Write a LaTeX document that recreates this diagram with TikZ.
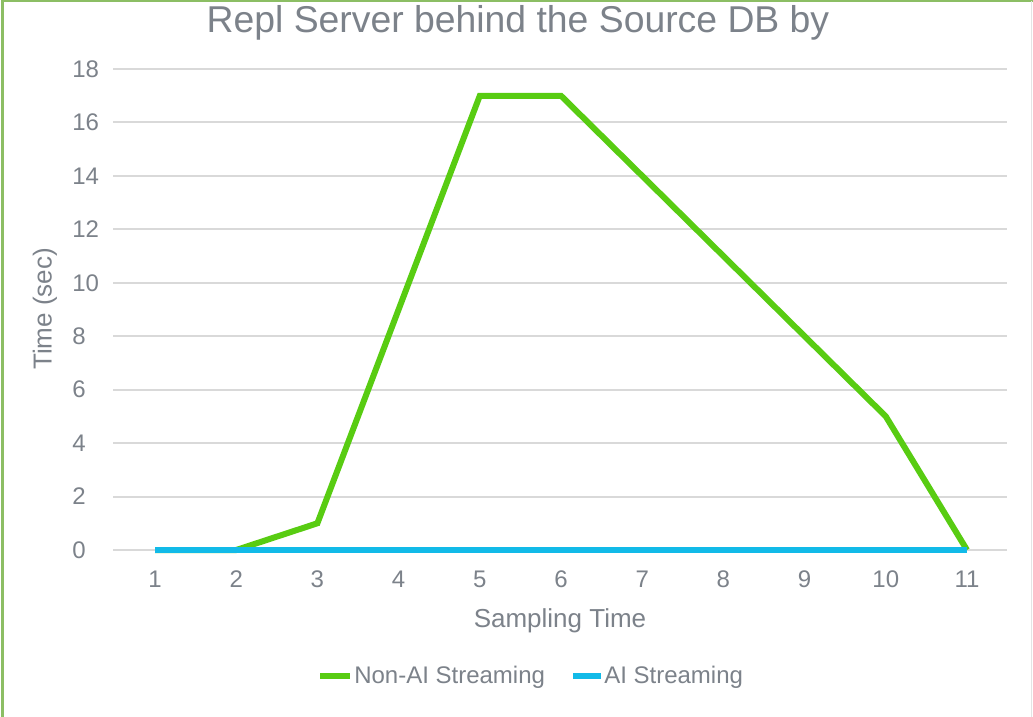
\documentclass[tikz,border=0pt]{standalone}
\usepackage{fontspec}
\setmainfont{Liberation Sans}
\definecolor{txtgray}{RGB}{124,130,138}
\definecolor{gridgray}{RGB}{217,217,217}
\definecolor{nonai}{RGB}{88,204,18}
\definecolor{aiblue}{RGB}{18,186,232}
\definecolor{frame}{RGB}{140,190,100}
\begin{document}
\begin{tikzpicture}[x=0.75pt,y=-0.75pt,
  gridline/.style={gridgray,line width=1.5pt},
  ticklab/.style={txtgray,font=\fontsize{18}{20}\selectfont,inner sep=0pt},
  axtitle/.style={txtgray,font=\fontsize{19.5}{22}\selectfont,inner sep=0pt},
  serieA/.style={nonai,line width=4.5pt,line join=miter},
  serieB/.style={aiblue,line width=3.8pt},
  keyline/.style={line width=4pt}]
\useasboundingbox (0,0) rectangle (1033,717);
\fill[white] (0,0) rectangle (1033,717);
% frame
\draw[frame,line width=1.6pt] (2.5,717) -- (2.5,1.2) -- (1033,1.2);
\draw[gridgray!70,line width=0.8pt] (1031.5,1.2) -- (1031.5,717);

% title
\node[txtgray,font=\fontsize{28}{32}\selectfont,inner sep=0pt] (title) at (518,23) {Repl Server behind the Source DB by};

% horizontal grid and y tick labels
\foreach \v in {0,2,...,18}{
  \draw[gridline] (113,{550-26.72*\v}) -- (1007,{550-26.72*\v});
  \node[ticklab,anchor=west] (y\v) at (72,{550-26.72*\v}) {\v};
}
% x tick labels
\foreach \i in {1,...,11}{
  \node[ticklab] (x\i) at ({155+81.2*(\i-1)},579) {\i};
}

% axis titles
\node[axtitle] (xtitle) at (560,621) {Sampling Time};
\node[axtitle,rotate=90] (ytitle) at (45,309) {Time (sec)};

% data points
\foreach \i/\v in {1/0,2/0,3/1,4/9,5/17,6/17,7/14,8/11,9/8,10/5,11/0}{
  \coordinate (g\i) at ({155+81.2*(\i-1)},{550-26.72*\v});
  \coordinate (b\i) at ({155+81.2*(\i-1)},550);
}
\draw[serieA] (g1) -- (g2) -- (g3) -- (g4) -- (g5) -- (g6) -- (g7) -- (g8) -- (g9) -- (g10) -- (g11);
\draw[serieB] (b1) -- (b11);

% legend
\coordinate (ka) at (320,676);
\coordinate (kb) at (350,676);
\coordinate (kc) at (573,676);
\coordinate (kd) at (601,676);
\draw[keyline,nonai] (ka) -- (kb);
\draw[keyline,aiblue] (kc) -- (kd);
\node[ticklab,anchor=west] (la) at (354,677) {Non-AI Streaming};
\node[ticklab,anchor=west] (lb) at (604,677) {AI Streaming};
\end{tikzpicture}
\end{document}
